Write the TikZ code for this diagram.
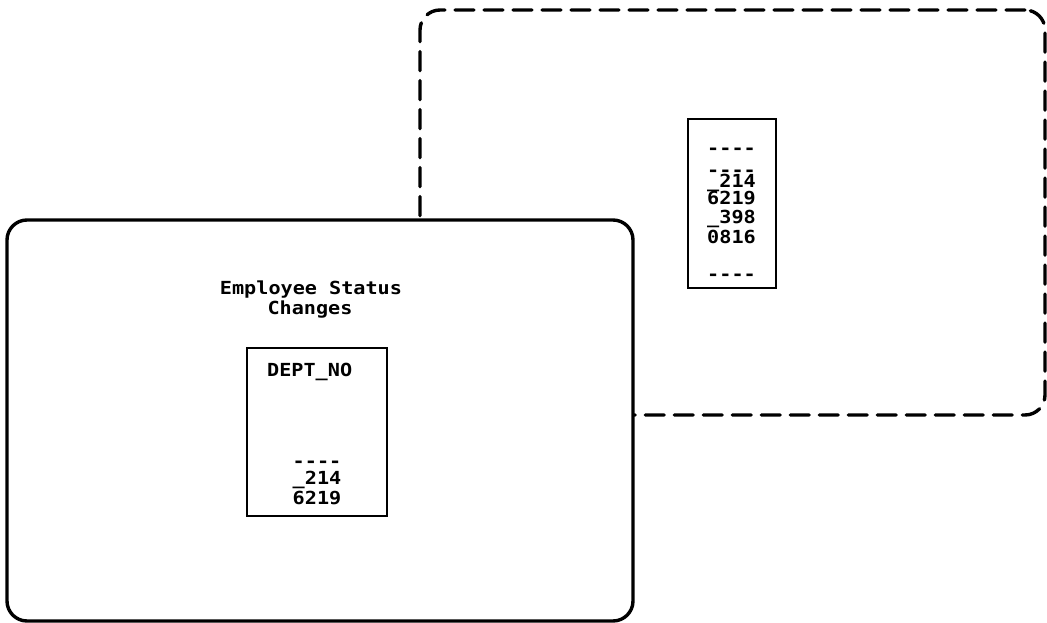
\documentclass[tikz,border=0pt]{standalone}
\usepackage{fontspec}
\newfontfamily\plotfont[FakeStretch=1.12]{DejaVu Sans Mono Bold}
\tikzset{
  outerbox/.style={draw, line width=3.4pt, rounded corners=20pt, inner sep=0pt},
  innerbox/.style={draw, line width=2pt, inner sep=0pt},
  txt/.style={font=\plotfont\fontsize{18}{20}\selectfont, inner sep=0pt, anchor=base},
  dashedline/.style={dash pattern=on 19pt off 10pt, line cap=round}
}
\begin{document}
\begin{tikzpicture}[x=1pt,y=-1pt]
\useasboundingbox (0,0) rectangle (1047,623);
% back dashed box
\node[outerbox, dashedline, minimum width=625pt, minimum height=405pt] (back) at (732.5,212.5) {};
% front box
\node[outerbox, fill=white, minimum width=626pt, minimum height=401pt] (front) at (320,420.5) {};
% back inner box
\node[innerbox, minimum width=88pt, minimum height=169pt] (binner) at (732,203.5) {};
\node[txt] (b1) at (731.5,155) {----};
\node[txt] (b2) at (731.5,176) {----};
\node[txt] (b3) at (731.5,187.5) {\_214};
\node[txt] (b4) at (731.5,204.5) {6219};
\node[txt] (b5) at (731.5,223.5) {\_398};
\node[txt] (b6) at (731.5,243.5) {0816};
\node[txt] (b7) at (731.5,280) {----};
% front texts
\node[txt] (t1) at (311,294.5) {Employee Status};
\node[txt] (t2) at (310,314.5) {Changes};
\node[innerbox, minimum width=140pt, minimum height=168pt] (finner) at (317,432) {};
\node[txt, anchor=base west] (f0) at (267,376.5) {DEPT\_NO};
\node[txt] (f1) at (317,467) {----};
\node[txt] (f2) at (317,484.5) {\_214};
\node[txt] (f3) at (317,504.5) {6219};
\end{tikzpicture}
\end{document}
